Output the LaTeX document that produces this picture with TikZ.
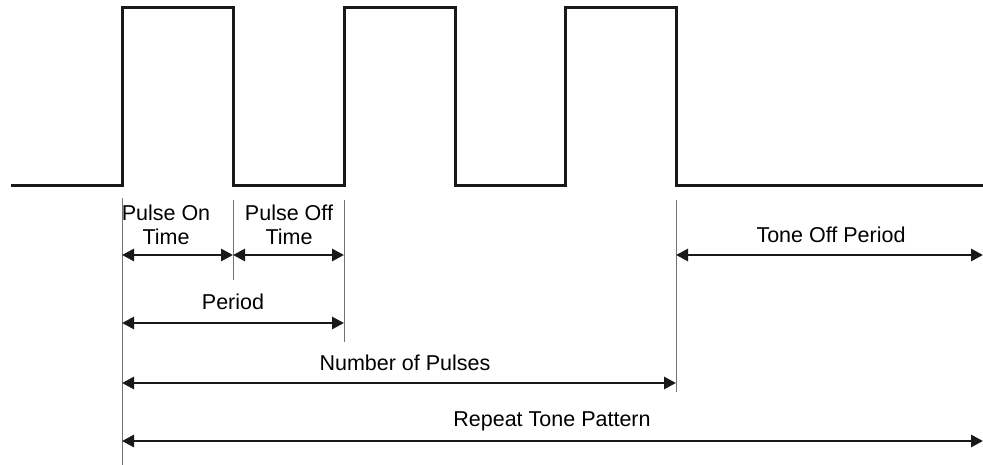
\documentclass[tikz,border=0pt]{standalone}
\usepackage{fontspec}
\setmainfont{Liberation Sans}
\usetikzlibrary{arrows.meta}
\begin{document}
\begin{tikzpicture}[x=1pt,y=-1pt,
  wave/.style={line width=3pt, line join=miter, black!90},
  guide/.style={line width=1pt, black!55},
  dim/.style={line width=2.8pt, black!90, {Triangle[length=12pt,width=12pt]}-{Triangle[length=12pt,width=12pt]}},
  lbl/.style={font=\fontsize{21.5}{24}\selectfont, align=center, inner sep=0pt}]
\useasboundingbox (0,0) rectangle (983,465);
% waveform
\draw[wave] (11,186) -- (122,186) -- (122,8) -- (233,8) -- (233,186) -- (344,186) -- (344,8) -- (455,8) -- (455,186) -- (565,186) -- (565,8) -- (676,8) -- (676,186) -- (983,186);
% guide lines
\coordinate (g1t) at (122,198); \coordinate (g1b) at (122,465);
\coordinate (g2t) at (233,200); \coordinate (g2b) at (233,280);
\coordinate (g3t) at (344,200); \coordinate (g3b) at (344,342);
\coordinate (g4t) at (676,200); \coordinate (g4b) at (676,392);
\draw[guide] (g1t) -- (g1b);
\draw[guide] (g2t) -- (g2b);
\draw[guide] (g3t) -- (g3b);
\draw[guide] (g4t) -- (g4b);
% arrow endpoints
\coordinate (a1) at (122,255); \coordinate (a2) at (233,255); \coordinate (a3) at (344,255);
\coordinate (t1) at (676,255); \coordinate (t2) at (983,255);
\coordinate (p1) at (122,323); \coordinate (p2) at (344,323);
\coordinate (n1) at (122,383); \coordinate (n2) at (676,383);
\coordinate (r1) at (122,441); \coordinate (r2) at (983,441);
\draw[dim] (a1) -- (a2);
\draw[dim] (a2) -- (a3);
\draw[dim] (t1) -- (t2);
\draw[dim] (p1) -- (p2);
\draw[dim] (n1) -- (n2);
\draw[dim] (r1) -- (r2);
% labels
\node[lbl] (lon) at (166,225) {Pulse On\\Time};
\node[lbl] (loff) at (289,225) {Pulse Off\\Time};
\node[lbl] (ltone) at (831,235) {Tone Off Period};
\node[lbl] (lper) at (233,302) {Period};
\node[lbl] (lnum) at (405,363) {Number of Pulses};
\node[lbl] (lrep) at (552,421) {Repeat Tone Pattern};
\end{tikzpicture}
\end{document}
